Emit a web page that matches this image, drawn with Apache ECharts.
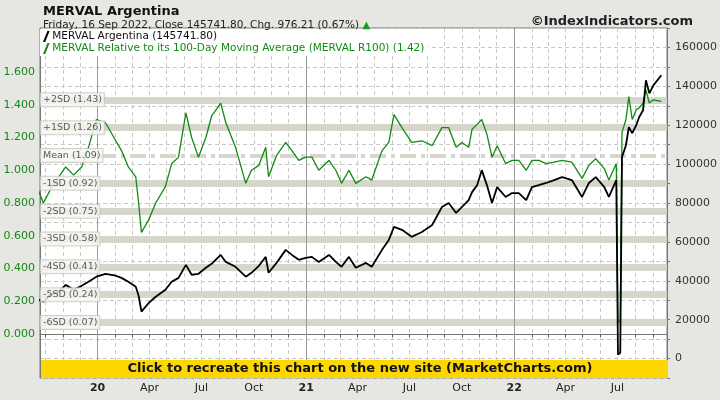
<!DOCTYPE html>
<html>
  <head>
    <meta charset="UTF-8" />
    <title>MERVAL Argentina</title>
    <style>
      html, body { margin: 0; padding: 0; background: #e6e6e2; }
      #main { width: 720px; height: 400px; }
    </style>
  </head>
  <body>
    <div id="main"></div>
    <script src="https://cdn.jsdelivr.net/npm/echarts@6/dist/echarts.min.js"></script>
    <script>
      const dates = [
        '2019-09-19', '2019-09-28', '2019-10-10', '2019-10-25', '2019-11-06', '2019-11-20', '2019-12-04', '2019-12-16',
        '2019-12-30', '2020-01-15', '2020-02-02', '2020-02-12', '2020-02-24', '2020-03-08', '2020-03-13', '2020-03-18',
        '2020-03-31', '2020-04-12', '2020-04-29', '2020-05-10', '2020-05-22', '2020-06-04', '2020-06-14', '2020-06-26',
        '2020-07-09', '2020-07-19', '2020-08-04', '2020-08-13', '2020-08-30', '2020-09-17', '2020-09-27', '2020-10-10',
        '2020-10-22', '2020-10-27', '2020-11-10', '2020-11-26', '2020-12-07', '2020-12-19', '2020-12-31', '2021-01-11',
        '2021-01-23', '2021-02-10', '2021-02-22', '2021-03-04', '2021-03-17', '2021-03-29', '2021-04-16', '2021-04-26',
        '2021-05-14', '2021-05-26', '2021-06-04', '2021-06-18', '2021-07-05', '2021-07-23', '2021-08-10', '2021-08-27',
        '2021-09-08', '2021-09-21', '2021-10-01', '2021-10-13', '2021-10-19', '2021-10-28', '2021-11-05', '2021-11-14',
        '2021-11-23', '2021-12-02', '2021-12-17', '2021-12-28', '2022-01-09', '2022-01-22', '2022-02-01', '2022-02-13',
        '2022-02-26', '2022-03-12', '2022-03-26', '2022-04-12', '2022-04-30', '2022-05-12', '2022-05-24', '2022-06-08',
        '2022-06-16', '2022-06-29', '2022-07-02', '2022-07-06', '2022-07-09', '2022-07-16', '2022-07-21', '2022-07-27',
        '2022-08-03', '2022-08-08', '2022-08-15', '2022-08-20', '2022-08-26', '2022-09-02', '2022-09-16'
      ]
      // MERVAL close (thousands)
      const merval = [
        30.3, 29.2, 32.8, 34.4, 37.9, 35.4, 37.4, 39.5,
        42.1, 43.6, 42.6, 41.5, 39.5, 36.9, 32.3, 24.1,
        28.7, 31.8, 35.4, 39.5, 41.5, 48.2, 43.1, 43.6,
        46.7, 48.7, 53.3, 49.7, 47.2, 42.1, 44.1, 47.7,
        52.3, 44.1, 49.2, 55.9, 53.3, 50.8, 51.8, 52.3,
        49.7, 53.3, 49.7, 47.2, 52.3, 46.7, 49.2, 47.2,
        55.9, 61.0, 67.7, 66.2, 62.6, 65.1, 68.7, 77.9,
        80.0, 74.9, 77.9, 81.5, 85.6, 89.2, 96.9, 89.2,
        80.0, 88.2, 83.1, 85.1, 85.1, 81.5, 88.2, 89.2,
        90.3, 91.8, 93.3, 91.8, 83.1, 90.3, 93.3, 88.2,
        83.1, 91.8, 2.0, 3.0, 103.6, 109.7, 119.0, 115.9,
        120.0, 124.1, 127.7, 143.1, 136.4, 140.5, 145.7
      ]
      // MERVAL relative to 100-day moving average
      const ratio = [
        0.88, 0.80, 0.88, 0.96, 1.02, 0.97, 1.02, 1.14,
        1.31, 1.29, 1.18, 1.12, 1.02, 0.96, 0.80, 0.62,
        0.70, 0.80, 0.90, 1.04, 1.08, 1.35, 1.20, 1.08,
        1.20, 1.33, 1.41, 1.29, 1.14, 0.92, 1.00, 1.03,
        1.14, 0.96, 1.09, 1.17, 1.12, 1.06, 1.08, 1.08,
        1.00, 1.06, 1.00, 0.92, 1.00, 0.92, 0.96, 0.94,
        1.12, 1.17, 1.34, 1.26, 1.17, 1.18, 1.15, 1.26,
        1.26, 1.14, 1.17, 1.14, 1.25, 1.28, 1.31, 1.22,
        1.08, 1.15, 1.04, 1.06, 1.06, 1.00, 1.06, 1.06,
        1.04, 1.05, 1.06, 1.05, 0.95, 1.03, 1.07, 1.01,
        0.94, 1.04, 0.07, 0.08, 1.23, 1.31, 1.45, 1.31,
        1.37, 1.38, 1.41, 1.49, 1.41, 1.43, 1.42
      ]
      const sdNames = ['+2SD', '+1SD', 'Mean', '-1SD', '-2SD', '-3SD', '-4SD', '-5SD', '-6SD']
      const sdValues = [1.43, 1.26, 1.09, 0.92, 0.75, 0.58, 0.41, 0.24, 0.07]
      const leftTicks = [0, 0.2, 0.4, 0.6, 0.8, 1.0, 1.2, 1.4, 1.6]
      const yearStarts = ['2020-01-01', '2021-01-01', '2022-01-01']
      const monthNames = ['Jan', 'Feb', 'Mar', 'Apr', 'May', 'Jun', 'Jul', 'Aug', 'Sep', 'Oct', 'Nov', 'Dec']

      const xMin = '2019-09-22'
      const font = 'DejaVu Sans'
      const green = '#128a12'

      const blackName = 'MERVAL Argentina (145741.80)'
      const greenName = 'MERVAL Relative to its 100-Day Moving Average (MERVAL R100) (1.42)'

      let bandLines = sdValues.map((v, i) => ({
        yAxis: v,
        lineStyle: sdNames[i] === 'Mean'
          ? { color: '#d6d6cc', width: 4, type: [16, 5, 4, 5] }
          : { color: '#d6d6cc', width: 7, type: 'solid' },
      }))

      let myChart = echarts.init(document.getElementById('main'))
      myChart.setOption({
        backgroundColor: '#e6e6e2',
        animation: false,
        textStyle: { fontFamily: font },
        title: [
          { text: 'MERVAL Argentina', left: 38, top: 0, textStyle: { fontSize: 13, fontWeight: 'bold', color: '#111' } },
          {
            text: 'Friday, 16 Sep 2022, Close 145741.80, Chg. 976.21 (0.67%) {up|▲}',
            left: 38, top: 15,
            textStyle: { fontSize: 10.5, fontWeight: 'normal', color: '#222', rich: { up: { color: '#1a9a1a', fontSize: 10 } } },
          },
          { text: '©IndexIndicators.com', right: 22, top: 10, textStyle: { fontSize: 13, fontWeight: 'bold', color: '#222' } },
        ],
        legend: {
          orient: 'vertical', left: 40, top: 29, itemGap: 1, itemWidth: 8, itemHeight: 11,
          backgroundColor: '#fff', padding: [2, 4, 2, 3],
          icon: 'path://M3,10 L7,0 L9,0 L5,10 Z',
          data: [
            { name: blackName, textStyle: { color: '#111' } },
            { name: greenName, textStyle: { color: green } },
          ],
          textStyle: { fontSize: 10.5, padding: [0, 0, 0, -3] },
        },
        grid: {
          left: 40, right: 52, top: 28, height: 350, show: true,
          backgroundColor: '#fff', borderColor: '#777', borderWidth: 1,
        },
        xAxis: {
          type: 'time',
          min: xMin, max: '2022-09-26',
          minInterval: 28 * 864e5, maxInterval: 31 * 864e5,
          axisLine: { lineStyle: { color: '#777' } },
          axisTick: { length: 3, lineStyle: { color: '#555' } },
          splitLine: { show: true, lineStyle: { color: '#c8c8c8', type: [4, 3] } },
          axisLabel: {
            fontSize: 11, color: '#222', margin: 5, hideOverlap: false,
            formatter: function (value) {
              let d = new Date(value)
              let m = d.getMonth()
              if (d.getFullYear() < 2020) return ''
              if (m === 0) return '{y|' + String(d.getFullYear()).slice(2) + '}'
              if (m % 3 === 0) return monthNames[m]
              return ''
            },
            rich: { y: { fontWeight: 'bold', fontSize: 11 } },
          },
        },
        yAxis: [
          {
            type: 'value', min: -0.2687, max: 1.8687, position: 'left',
            axisLine: { show: true, lineStyle: { color: '#777' } },
            axisTick: { show: false },
            splitLine: { show: false },
            axisLabel: {
              customValues: leftTicks, color: green, fontSize: 11, margin: 5,
              formatter: (v) => v.toFixed(3),
            },
          },
          {
            type: 'value', min: -10000, max: 170000, interval: 10000, position: 'right',
            axisLine: { show: true, lineStyle: { color: '#777' } },
            axisTick: { show: true, length: 3, lineStyle: { color: '#777' } },
            splitLine: { show: true, lineStyle: { color: '#c8c8c8', type: [4, 3] } },
            axisLabel: {
              color: '#333', fontSize: 11, margin: 8,
              formatter: (v) => (v >= 0 && v % 20000 === 0 ? String(v) : ''),
            },
          },
        ],
        series: [
          {
            name: 'bands', type: 'line', yAxisIndex: 0, data: [], z: 1,
            markLine: { silent: true, z: 1, symbol: 'none', label: { show: false }, data: bandLines },
          },
          {
            name: 'years', type: 'line', yAxisIndex: 0, data: [], z: 1,
            markLine: {
              silent: true, z: 1, symbol: 'none', label: { show: false },
              lineStyle: { color: '#9a9a9a', width: 1, type: 'solid' },
              data: yearStarts.map((d) => ({ xAxis: d })),
            },
          },
          {
            name: 'sdLabels', type: 'scatter', yAxisIndex: 0, symbolSize: 0, z: 5,
            data: sdValues.map((v) => [xMin, v]),
            label: {
              show: true, position: 'right', distance: 1,
              formatter: (p) => sdNames[p.dataIndex] + ' (' + sdValues[p.dataIndex].toFixed(2) + ')',
              fontSize: 9.5, color: '#333', backgroundColor: '#f6f6f2',
              borderColor: '#c8c8c0', borderWidth: 1, padding: [2, 2, 1, 2],
            },
          },
          {
            name: greenName, type: 'line', yAxisIndex: 0, z: 3, showSymbol: false,
            data: dates.map((d, i) => [d, ratio[i]]),
            lineStyle: { color: green, width: 1.3 }, itemStyle: { color: green },
          },
          {
            name: blackName, type: 'line', yAxisIndex: 1, z: 4, showSymbol: false,
            data: dates.map((d, i) => [d, merval[i] * 1000]),
            lineStyle: { color: '#000', width: 1.8 }, itemStyle: { color: '#000' },
          },
        ],
        graphic: [
          {
            type: 'rect', left: 41, top: 360, z: 10,
            shape: { width: 627, height: 18 }, style: { fill: '#ffd700' },
          },
          {
            type: 'text', left: 'center', top: 362, z: 11,
            style: {
              text: 'Click to recreate this chart on the new site (MarketCharts.com)',
              font: 'bold 13px "DejaVu Sans"', fill: '#111',
            },
          },
        ],
      })
    </script>
  </body>
</html>
